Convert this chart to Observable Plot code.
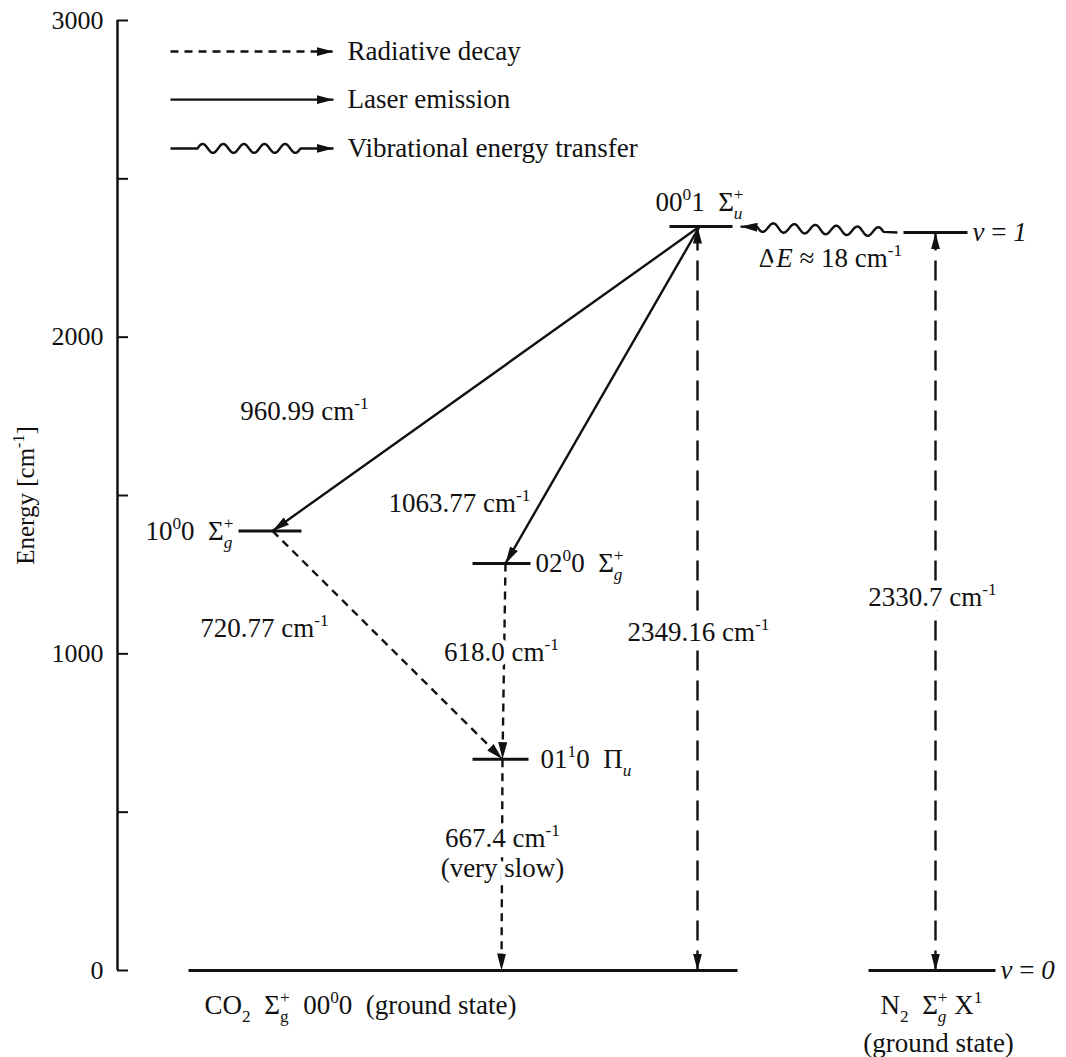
<!DOCTYPE html>
<html>
<head>
<meta charset="utf-8">
<script src="https://cdn.jsdelivr.net/npm/d3@7"></script>
<script src="https://cdn.jsdelivr.net/npm/@observablehq/plot@0.6"></script>
<style>
  html, body { margin: 0; padding: 0; background: #fff; font-family: "Liberation Serif", serif; }
  #chart svg { display: block; }
</style>
</head>
<body>
<div id="chart"></div>
<script>
// ---------------- data ----------------
// energy levels (cm^-1) and their horizontal extent (diagram column units)
const levelNames    = ["CO2 00^00", "CO2 10^00", "CO2 02^00", "CO2 01^10", "CO2 00^01", "N2 v=0", "N2 v=1"];
const levelEnergies = [0, 1388.17, 1285.39, 667.4, 2349.16, 0, 2330.7];
const levelX1       = [71, 121, 355, 355, 552, 751, 786];
const levelX2       = [620, 184, 413, 411, 615, 878, 850];

// transitions
const transKinds  = ["laser", "laser", "decay", "decay", "decay", "pump", "pump", "transfer"];
const transFromE  = [2349.16, 2349.16, 1388.17, 1285.39, 667.4, 0, 0, 2330.7];
const transToE    = [1388.17, 1285.39, 667.4, 667.4, 0, 2349.16, 2330.7, 2349.16];
const transFromX  = [582, 582, 155, 388, 385, 580, 818, 780];
const transToX    = [155, 388, 385, 385, 384, 580, 818, 623];

// transition labels
const transLabels = ["960.99 cm^{-1}", "1063.77 cm^{-1}", "720.77 cm^{-1}", "618.0 cm^{-1}",
                     "667.4 cm^{-1}", "(very slow)", "2349.16 cm^{-1}", "2330.7 cm^{-1}", "Δ*E* ≈ 18 cm^{-1}"];
const transLabelX = [187, 342, 147, 384, 385, 385, 581, 815, 713];
const transLabelE = [1765, 1475, 1080, 1004, 417, 322, 1067, 1178, 2248];

// state labels
const stateLabels = ["00^{0}1  Σ@{+|*u*}", "10^{0}0  Σ@{+|*g*}", "02^{0}0  Σ@{+|*g*}", "01^{1}0  Π*_{u}*",
                     "*v* = *1*", "*v* = *0*", "CO_{2}  Σ@{+|g}  00^{0}0  (ground state)",
                     "N_{2}  Σ@{+|*g*} X^{1}", "(ground state)"];
const stateLabelX = [538, 116, 418, 423, 855, 883, 87, 814, 821];
const stateLabelE = [2425, 1388.17, 1285.39, 667.4, 2330.7, 0, -110, -110, -230];
const stateAnchor = ["start", "end", "start", "start", "start", "start", "start", "middle", "middle"];

// axis
const yTicks = [0, 500, 1000, 1500, 2000, 2500, 3000];
const yTickLabels = [0, 1000, 2000, 3000];
const yTitle = "Energy [cm^{-1}]";

// legend
const legendKinds  = ["decay", "laser", "transfer"];
const legendLabels = ["Radiative decay", "Laser emission", "Vibrational energy transfer"];
const legendE      = [2902, 2750, 2596];

// ---------------- helpers ----------------
const INK = "#111";
const FONT = "Liberation Serif";

function arrowHead(len = 17, wid = 9) {
  return (color) => {
    const m = d3.create("svg:marker")
      .attr("viewBox", `${-len} ${-wid / 2} ${len} ${wid}`)
      .attr("markerWidth", len)
      .attr("markerHeight", wid)
      .attr("markerUnits", "userSpaceOnUse")
      .attr("refX", 0).attr("refY", 0)
      .attr("orient", "auto-start-reverse");
    m.append("path")
      .attr("d", `M${-len},${-wid / 2}L0,0L${-len},${wid / 2}Z`)
      .attr("fill", color).attr("stroke", "none");
    return m.node();
  };
}
const head = arrowHead(17, 9);

function waveCurve({lead0 = 14, lead1 = 17, period = 21, amp = 4} = {}) {
  return (context) => {
    let pts = [];
    return {
      areaStart() {}, areaEnd() {},
      lineStart() { pts = []; },
      point(x, y) { pts.push([+x, +y]); },
      lineEnd() {
        if (pts.length < 2) return;
        const [x0, y0] = pts[0], [x1, y1] = pts[pts.length - 1];
        const dx = x1 - x0, dy = y1 - y0, L = Math.hypot(dx, dy);
        const ux = dx / L, uy = dy / L;
        let nx = uy, ny = -ux;
        if (ny > 0) { nx = -nx; ny = -ny; }
        const span = L - lead0 - lead1;
        const n = Math.max(1, Math.round(span / period));
        const steps = n * 24;
        context.moveTo(x0, y0);
        context.lineTo(x0 + ux * lead0, y0 + uy * lead0);
        for (let k = 1; k <= steps; k++) {
          const s = lead0 + span * k / steps;
          const off = amp * Math.sin(2 * Math.PI * k / 24);
          context.lineTo(x0 + ux * s + nx * off, y0 + uy * s + ny * off);
        }
        context.lineTo(x1, y1);
      }
    };
  };
}

// rich text: ^{sup} _{sub} @{sup|sub} *italic*
function parseRich(s) {
  const out = [];
  let italic = false, buf = "", i = 0;
  const flush = () => { if (buf) { out.push({text: buf, italic, pos: "base", stack: false}); buf = ""; } };
  const inner = (t, pos, stack) => {
    let it = italic;
    if (t.length > 1 && t.startsWith("*") && t.endsWith("*")) { t = t.slice(1, -1); it = true; }
    out.push({text: t, italic: it, pos, stack});
  };
  while (i < s.length) {
    const c = s[i];
    if (c === "*") { flush(); italic = !italic; i++; }
    else if ((c === "^" || c === "_") && s[i + 1] === "{") {
      flush(); const j = s.indexOf("}", i);
      inner(s.slice(i + 2, j), c === "^" ? "sup" : "sub", false); i = j + 1;
    } else if (c === "@" && s[i + 1] === "{") {
      flush(); const j = s.indexOf("}", i);
      const [a, b] = s.slice(i + 2, j).split("|");
      inner(a, "sup", false); inner(b, "sub", true); i = j + 1;
    } else { buf += c; i++; }
  }
  flush();
  return out;
}

// approximate Times advance widths (em) for the small stacked glyphs
const EM = {"+": 0.564, "-": 0.333, "u": 0.5, "g": 0.5};
const emWidth = (t) => [...t].reduce((a, c) => a + (EM[c] ?? 0.5), 0);

function richify(svg) {
  const ns = "http://www.w3.org/2000/svg";
  svg.querySelectorAll("text").forEach((el) => {
    const s = el.textContent;
    if (!/[\^_*@]/.test(s)) return;
    const g0 = el.closest("g[font-size]");
    const fs = g0 ? parseFloat(g0.getAttribute("font-size")) : 27;
    const segs = parseRich(s);
    el.textContent = "";
    let cur = 0, lastLen = 0, pendingDx = 0;
    for (const g of segs) {
      const t = document.createElementNS(ns, "tspan");
      const small = g.pos !== "base";
      const sfs = small ? 0.64 * fs : fs;
      const target = g.pos === "sup" ? -0.40 * fs : g.pos === "sub" ? 0.30 * fs : 0;
      if (small) t.setAttribute("font-size", sfs + "px");
      if (g.italic) t.setAttribute("font-style", "italic");
      const d = target - cur;
      if (d) t.setAttribute("dy", d);
      cur = target;
      let dxv = 0;
      if (g.stack) dxv = -lastLen;
      else { dxv = pendingDx; pendingDx = 0; }
      if (dxv) t.setAttribute("dx", dxv);
      t.textContent = g.text;
      el.appendChild(t);
      const len = emWidth(g.text) * sfs;
      if (g.stack) pendingDx = Math.max(0, lastLen - len);
      lastLen = len;
    }
  });
}

// ---------------- build tables ----------------
const levels = levelNames.map((name, i) => ({name, e: levelEnergies[i], x1: levelX1[i], x2: levelX2[i]}));
const trans = transKinds.map((kind, i) => ({kind, e1: transFromE[i], e2: transToE[i], x1: transFromX[i], x2: transToX[i]}));
const tLabels = transLabels.map((text, i) => ({text, x: transLabelX[i], e: transLabelE[i]}));
const sLabels = stateLabels.map((text, i) => ({text, x: stateLabelX[i], e: stateLabelE[i], anchor: stateAnchor[i]}));
const legend = legendKinds.map((kind, i) => ({kind, label: legendLabels[i], e: legendE[i], x1: 53, x2: 216, tx: 230}));

const linkOpts = {x1: "x1", x2: "x2", y1: "e1", y2: "e2", stroke: INK, strokeWidth: 2.4};
const legOpts = {x1: "x1", x2: "x2", y1: "e", y2: "e", stroke: INK, strokeWidth: 2.4};
const txt = {fontFamily: FONT, fill: INK};

const chart = Plot.plot({
  width: 1066,
  height: 1057,
  marginLeft: 117,
  marginRight: 0,
  marginTop: 20,
  marginBottom: 87,
  x: {domain: [0, 949], axis: null},
  y: {domain: [0, 3000], axis: null},
  marks: [
    // axis
    Plot.ruleX([0], {x: (d) => d, y1: 0, y2: 3000, stroke: INK, strokeWidth: 2.5}),
    Plot.ruleY(yTicks, {y: (d) => d, x1: 0, x2: 11, stroke: INK, strokeWidth: 2}),
    Plot.text(yTickLabels, {...txt, x: 0, y: (d) => d, text: (d) => String(d), dx: -14, textAnchor: "end", fontSize: 26}),
    Plot.text([yTitle], {...txt, x: -92, y: 1500, text: (d) => d, rotate: -90, fontSize: 25}),

    // levels
    Plot.link(levels, {x1: "x1", x2: "x2", y1: "e", y2: "e", stroke: INK, strokeWidth: 3}),

    // transitions
    Plot.link(trans.filter((d) => d.kind === "laser"), {...linkOpts, markerEnd: head}),
    Plot.link(trans.filter((d) => d.kind === "decay"), {...linkOpts, strokeDasharray: "8,6", markerEnd: head}),
    Plot.link(trans.filter((d) => d.kind === "pump"), {...linkOpts, strokeDasharray: "20,10", markerStart: head, markerEnd: head}),
    Plot.link(trans.filter((d) => d.kind === "transfer"), {...linkOpts, curve: waveCurve({lead0: 14, lead1: 17, period: 21, amp: 4.5}), markerEnd: head}),

    // transition labels (with white halo interrupting lines)
    Plot.text(tLabels, {...txt, x: "x", y: "e", text: "text", fontSize: 27, stroke: "white", strokeWidth: 10, textAnchor: "middle"}),

    // state labels
    ...["start", "middle", "end"].map((a) =>
      Plot.text(sLabels.filter((d) => d.anchor === a), {...txt, x: "x", y: "e", text: "text", fontSize: 27, textAnchor: a})),

    // legend
    Plot.link(legend.filter((d) => d.kind === "decay"), {...legOpts, strokeDasharray: "8,6", markerEnd: head}),
    Plot.link(legend.filter((d) => d.kind === "laser"), {...legOpts, markerEnd: head}),
    Plot.link(legend.filter((d) => d.kind === "transfer"), {...legOpts, curve: waveCurve({lead0: 27, lead1: 33, period: 21, amp: 4.5}), markerEnd: head}),
    Plot.text(legend, {...txt, x: "tx", y: "e", text: "label", textAnchor: "start", fontSize: 27})
  ]
});

document.getElementById("chart").appendChild(chart);
richify(chart);
</script>
</body>
</html>
